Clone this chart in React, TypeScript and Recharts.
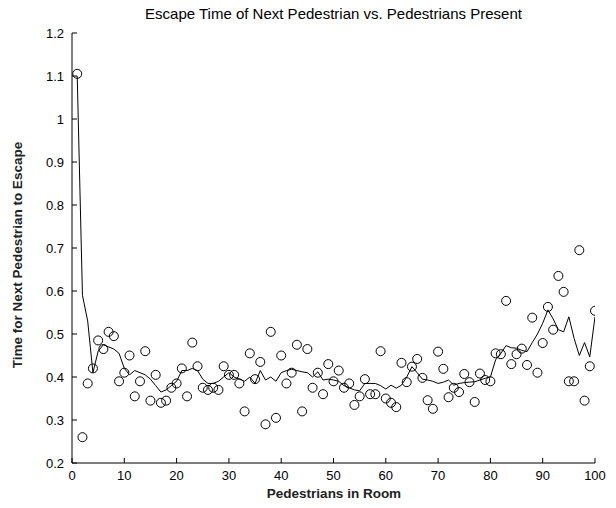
import React from 'react'
import { ComposedChart, Line, Scatter, XAxis, YAxis } from 'recharts'

// pedestrians in room (x)
const pedestrians = [
  1, 2, 3, 4, 5, 6, 7, 8, 9, 10, 11, 12, 13, 14, 15, 16, 17, 18, 19, 20,
  21, 22, 23, 24, 25, 26, 27, 28, 29, 30, 31, 32, 33, 34, 35, 36, 37, 38, 39, 40,
  41, 42, 43, 44, 45, 46, 47, 48, 49, 50, 51, 52, 53, 54, 55, 56, 57, 58, 59, 60,
  61, 62, 63, 64, 65, 66, 67, 68, 69, 70, 71, 72, 73, 74, 75, 76, 77, 78, 79, 80,
  81, 82, 83, 84, 85, 86, 87, 88, 89, 90, 91, 92, 93, 94, 95, 96, 97, 98, 99, 100,
]

// measured escape times (circles)
const escapeTimes = [
  1.105, 0.26, 0.385, 0.42, 0.485, 0.465, 0.505, 0.495, 0.39, 0.41,
  0.45, 0.355, 0.39, 0.46, 0.345, 0.405, 0.34, 0.345, 0.375, 0.385,
  0.42, 0.355, 0.48, 0.425, 0.375, 0.37, 0.375, 0.37, 0.425, 0.405,
  0.405, 0.385, 0.32, 0.455, 0.395, 0.435, 0.29, 0.505, 0.305, 0.45,
  0.385, 0.41, 0.475, 0.32, 0.465, 0.375, 0.41, 0.36, 0.43, 0.39,
  0.415, 0.375, 0.385, 0.335, 0.355, 0.395, 0.36, 0.36, 0.46, 0.35,
  0.34, 0.33, 0.433, 0.388, 0.424, 0.442, 0.398, 0.346, 0.326, 0.459,
  0.419, 0.353, 0.375, 0.365, 0.407, 0.388, 0.342, 0.408, 0.393, 0.39,
  0.455, 0.453, 0.577, 0.43, 0.453, 0.466, 0.428, 0.538, 0.41, 0.479,
  0.563, 0.51, 0.635, 0.598, 0.39, 0.39, 0.695, 0.345, 0.425, 0.554,
]

// smoothed curve (line)
const smoothed = [
  1.1, 0.59, 0.53, 0.41, 0.46, 0.475, 0.47, 0.465, 0.455, 0.42,
  0.405, 0.415, 0.41, 0.405, 0.395, 0.38, 0.365, 0.37, 0.38, 0.39,
  0.415, 0.415, 0.42, 0.415, 0.395, 0.385, 0.385, 0.39, 0.4, 0.41,
  0.4, 0.395, 0.39, 0.4, 0.385, 0.415, 0.393, 0.4, 0.39, 0.41,
  0.415, 0.418, 0.415, 0.412, 0.41, 0.4, 0.412, 0.393, 0.395, 0.393,
  0.39, 0.38, 0.375, 0.37, 0.368, 0.385, 0.385, 0.385, 0.38, 0.372,
  0.381, 0.374, 0.381, 0.4, 0.424, 0.41, 0.395, 0.393, 0.39, 0.385,
  0.388, 0.393, 0.381, 0.385, 0.387, 0.388, 0.389, 0.393, 0.397, 0.4,
  0.44, 0.455, 0.473, 0.468, 0.467, 0.462, 0.459, 0.48, 0.5, 0.525,
  0.556, 0.535, 0.51, 0.505, 0.54, 0.49, 0.45, 0.48, 0.447, 0.54,
]

const xTicks = [0, 10, 20, 30, 40, 50, 60, 70, 80, 90, 100]
const yTicks = [0.2, 0.3, 0.4, 0.5, 0.6, 0.7, 0.8, 0.9, 1, 1.1, 1.2]

const data = pedestrians.map((x, i) => ({ x, t: escapeTimes[i], avg: smoothed[i] }))

const FONT = '"Liberation Sans", Arial, Helvetica, sans-serif'
const TICK_LEN = 5
const GAP = 5

const BottomTick = (props: any) => {
  const { x, y, payload } = props
  return (
    <g>
      <line x1={x} y1={y - GAP} x2={x} y2={y - GAP - TICK_LEN} stroke="#000" />
      <text x={x} y={y} dy="0.9em" textAnchor="middle" fontSize={13} fontFamily={FONT} fill="#000">
        {payload.value}
      </text>
    </g>
  )
}

const TopTick = (props: any) => {
  const { x, y } = props
  return <line x1={x} y1={y + GAP} x2={x} y2={y + GAP + TICK_LEN} stroke="#000" />
}

const LeftTick = (props: any) => {
  const { x, y, payload } = props
  return (
    <g>
      <line x1={x + GAP} y1={y} x2={x + GAP + TICK_LEN} y2={y} stroke="#000" />
      <text x={x - 3} y={y} dy="0.35em" textAnchor="end" fontSize={13} fontFamily={FONT} fill="#000">
        {String(Math.round(payload.value * 10) / 10)}
      </text>
    </g>
  )
}

const RightTick = (props: any) => {
  const { x, y } = props
  return <line x1={x - GAP} y1={y} x2={x - GAP - TICK_LEN} y2={y} stroke="#000" />
}

const Ring = (props: any) => {
  const { cx, cy } = props
  return <circle cx={cx} cy={cy} r={4.5} fill="none" stroke="#000" strokeWidth={1} />
}

export default function App() {
  return (
    <div style={{ position: 'absolute', left: 0, top: 0, width: 616, height: 508, background: '#fff' }}>
      <div
        style={{
          position: 'absolute',
          top: 5,
          left: 72,
          width: 523,
          textAlign: 'center',
          fontFamily: FONT,
          fontSize: 15,
          color: '#000',
        }}
      >
        Escape Time of Next Pedestrian vs. Pedestrians Present
      </div>
      <ComposedChart width={616} height={508} data={data} margin={{ top: 33, right: 21, bottom: 15, left: 20 }}>
        <XAxis
          dataKey="x"
          type="number"
          domain={[0, 100]}
          ticks={xTicks}
          allowDataOverflow
          height={30}
          tickSize={0}
          tickMargin={GAP}
          tickLine={false}
          axisLine={{ stroke: '#000' }}
          tick={<BottomTick />}
          interval={0}
          label={{
            content: () => (
              <text x={334} y={498} textAnchor="middle" fontSize={13.5} fontWeight="bold" fontFamily={FONT} fill="#222">
                Pedestrians in Room
              </text>
            ),
          }}
        />
        <XAxis
          xAxisId="top"
          dataKey="x"
          type="number"
          orientation="top"
          domain={[0, 100]}
          ticks={xTicks}
          allowDataOverflow
          height={0}
          tickSize={0}
          tickMargin={GAP}
          tickLine={false}
          axisLine={{ stroke: '#000' }}
          tick={<TopTick />}
          interval={0}
        />
        <YAxis
          type="number"
          domain={[0.2, 1.2]}
          ticks={yTicks}
          allowDataOverflow
          width={52}
          tickSize={0}
          tickMargin={GAP}
          tickLine={false}
          axisLine={{ stroke: '#000' }}
          tick={<LeftTick />}
          interval={0}
          label={{
            content: () => (
              <text
                x={22}
                y={255}
                transform="rotate(-90 22 255)"
                textAnchor="middle"
                fontSize={13.5}
                fontWeight="bold"
                fontFamily={FONT}
                fill="#222"
              >
                Time for Next Pedestrian to Escape
              </text>
            ),
          }}
        />
        <YAxis
          yAxisId="right"
          orientation="right"
          type="number"
          domain={[0.2, 1.2]}
          ticks={yTicks}
          allowDataOverflow
          width={0}
          tickSize={0}
          tickMargin={GAP}
          tickLine={false}
          axisLine={{ stroke: '#000' }}
          tick={<RightTick />}
          interval={0}
        />
        <Line
          dataKey="avg"
          type="linear"
          stroke="#000"
          strokeWidth={1}
          dot={false}
          activeDot={false}
          isAnimationActive={false}
        />
        <Scatter dataKey="t" shape={<Ring />} isAnimationActive={false} />
      </ComposedChart>
    </div>
  )
}
